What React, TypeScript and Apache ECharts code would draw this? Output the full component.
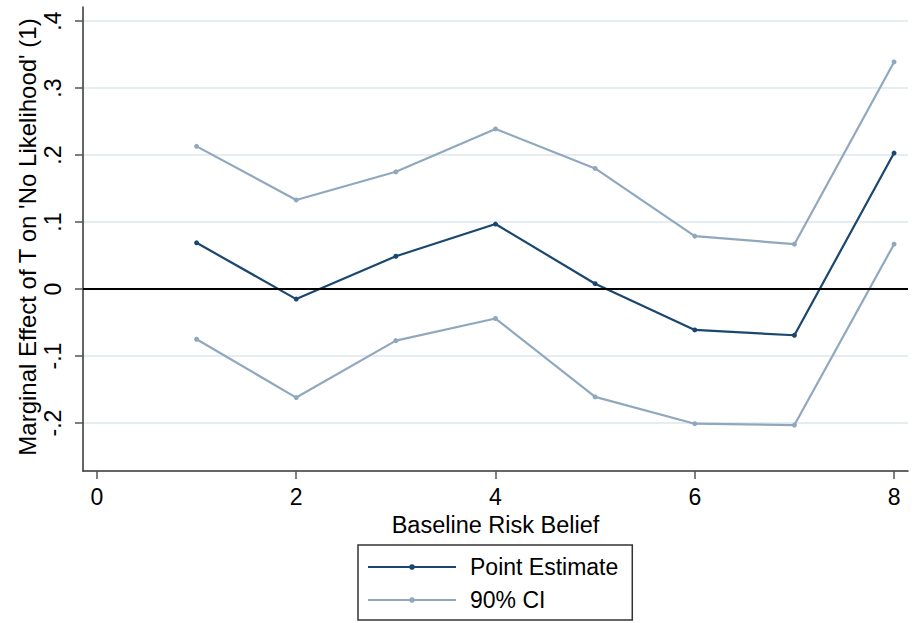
import React, { useEffect, useRef } from "react";
import * as echarts from "echarts";

const xValues = [1, 2, 3, 4, 5, 6, 7, 8];
const pointEstimate = [0.069, -0.015, 0.049, 0.097, 0.008, -0.061, -0.069, 0.203];
const upperCI = [0.213, 0.133, 0.175, 0.239, 0.18, 0.079, 0.067, 0.339];
const lowerCI = [-0.075, -0.162, -0.077, -0.044, -0.161, -0.201, -0.203, 0.067];
const xTicks = [0, 2, 4, 6, 8];
const yTicks = [-0.2, -0.1, 0, 0.1, 0.2, 0.3, 0.4];
const xTitle = "Baseline Risk Belief";
const yTitle = "Marginal Effect of T on 'No Likelihood' (1)";
const seriesNames = ["Point Estimate", "90% CI"];

const NAVY = "#1a476f";
const CI_COLOR = "#90a8be";
const FONT = "'Liberation Sans', Arial, sans-serif";

function fmtY(v: number): string {
  if (Math.abs(v) < 1e-9) return "0";
  const s = v.toFixed(1);
  return s.replace("0.", ".");
}

export default function App() {
  const ref = useRef<HTMLDivElement>(null);
  useEffect(() => {
    if (!ref.current) return;
    const chart = echarts.init(ref.current, undefined, { renderer: "svg" });
    const pair = (arr: number[]) => xValues.map((x, i) => [x, arr[i]]);
    chart.setOption({
      animation: false,
      backgroundColor: "#ffffff",
      textStyle: { fontFamily: FONT },
      grid: { left: 83, right: 8, top: 7, bottom: 152, containLabel: false },
      graphic: [
        {
          type: "text",
          x: 27,
          y: 237,
          rotation: Math.PI / 2,
          style: {
            text: yTitle,
            fontSize: 24,
            fontFamily: FONT,
            fill: "#000",
            align: "center",
            verticalAlign: "middle",
          },
        },
      ],
      xAxis: {
        type: "value",
        min: -0.14,
        max: 8.14,
        name: xTitle,
        nameLocation: "middle",
        nameGap: 34,
        nameTextStyle: { fontSize: 23.5, color: "#000", fontFamily: FONT },
        axisLine: { show: true, onZero: false, lineStyle: { color: "#333", width: 1.5 } },
        axisTick: { show: true, length: 8, customValues: xTicks, lineStyle: { color: "#555", width: 1.5 } },
        axisLabel: { customValues: xTicks, margin: 14, fontSize: 23, color: "#000", fontFamily: FONT },
        splitLine: { show: false },
      },
      yAxis: {
        type: "value",
        min: -0.2716,
        max: 0.421,
        axisLine: { show: true, onZero: false, lineStyle: { color: "#333", width: 1.5 } },
        axisTick: { show: true, length: 8, customValues: yTicks, lineStyle: { color: "#555", width: 1.5 } },
        axisLabel: {
          customValues: yTicks,
          rotate: 90,
          margin: 19,
          fontSize: 23,
          color: "#000",
          fontFamily: FONT,
          formatter: (v: number) => fmtY(v),
        },
        splitLine: { show: true, lineStyle: { color: "#e6edf1", width: 2 } },
      },
      legend: {
        data: seriesNames,
        orient: "vertical",
        left: 358,
        top: 545,
        padding: [9, 14, 7, 9],
        itemGap: 7,
        itemWidth: 88,
        itemHeight: 7,
        borderColor: "#333",
        borderWidth: 1.5,
        textStyle: { fontSize: 23, color: "#000", fontFamily: FONT, lineHeight: 26, padding: [0, 0, 0, 9] },
      },
      series: [
        {
          name: seriesNames[1],
          type: "line",
          data: pair(upperCI),
          symbol: "circle",
          symbolSize: 5,
          lineStyle: { color: CI_COLOR, width: 2.2 },
          itemStyle: { color: CI_COLOR },
          z: 2,
          markLine: {
            silent: true,
            symbol: "none",
            label: { show: false },
            lineStyle: { color: "#000", width: 2, type: "solid" },
            data: [{ yAxis: 0 }],
          },
        },
        {
          name: seriesNames[1],
          type: "line",
          data: pair(lowerCI),
          symbol: "circle",
          symbolSize: 5,
          lineStyle: { color: CI_COLOR, width: 2.2 },
          itemStyle: { color: CI_COLOR },
          z: 2,
        },
        {
          name: seriesNames[0],
          type: "line",
          data: pair(pointEstimate),
          symbol: "circle",
          symbolSize: 5,
          lineStyle: { color: NAVY, width: 2.2 },
          itemStyle: { color: NAVY },
          z: 3,
        },
      ],
    });
    return () => chart.dispose();
  }, []);
  return (
    <div
      ref={ref}
      style={{ position: "fixed", left: 0, top: 0, width: 916, height: 623, background: "#fff" }}
    />
  );
}
